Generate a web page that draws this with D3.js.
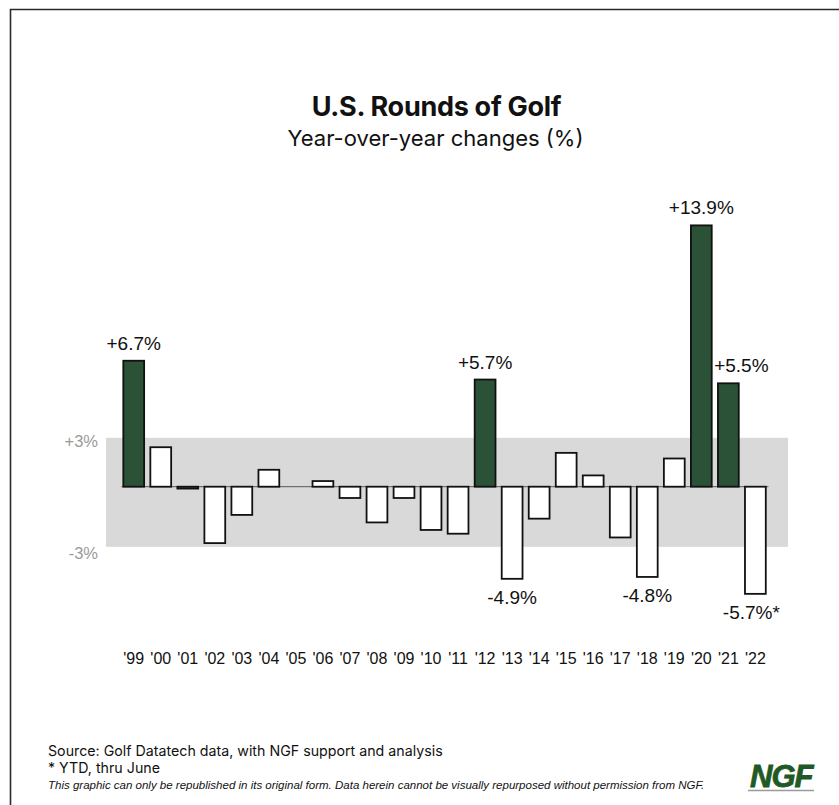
<!DOCTYPE html>
<html>
<head>
<meta charset="utf-8">
<script src="https://cdn.jsdelivr.net/npm/d3@7"></script>
<style>
  html, body { margin: 0; padding: 0; background: #fff; }
  svg { display: block; }
</style>
</head>
<body>
<svg id="chart" width="839" height="805"></svg>
<script>
// ---------- DATA ----------
const years = ["'99","'00","'01","'02","'03","'04","'05","'06","'07","'08","'09","'10","'11","'12","'13","'14","'15","'16","'17","'18","'19","'20","'21","'22"];
const changes = [6.7, 2.1, -0.1, -3.0, -1.5, 0.9, 0.0, 0.3, -0.6, -1.9, -0.6, -2.3, -2.5, 5.7, -4.9, -1.7, 1.8, 0.6, -2.7, -4.8, 1.5, 13.9, 5.5, -5.7];
const highlighted = ["'99","'12","'20","'21"];
const calloutYears = ["'99","'12","'13","'18","'20","'21","'22"];
const calloutTexts = ["+6.7%","+5.7%","-4.9%","-4.8%","+13.9%","+5.5%","-5.7%*"];
const bandEdges = [2.6, -3.2];          // shaded "normal range" band as drawn
const bandLabels = ["+3%", "-3%"];
const title = "U.S. Rounds of Golf";
const subtitle = "Year-over-year changes (%)";
const footerLines = ["Source: Golf Datatech data, with NGF support and analysis", "* YTD, thru June"];
const disclaimer = "This graphic can only be republished in its original form. Data herein cannot be visually repurposed without permission from NGF.";

// ---------- LAYOUT ----------
const svg = d3.select("#chart");
const GREEN = "#2b5236";
const chartFont = "'Liberation Sans', Arial, sans-serif";
const textFont = "Inter, 'Noto Sans', sans-serif";

const x = d3.scaleBand().domain(years).range([117.1, 772.0]).padding(0.23);
const y = d3.scaleLinear().domain([-6, 14]).range([486.7 + 6 * 18.8, 486.7 - 14 * 18.8]);

function fitWidth(sel, target) {
  const node = sel.node();
  const fs = parseFloat(sel.attr("font-size"));
  const w = node.getComputedTextLength();
  if (w > 0) sel.attr("font-size", (fs * target / w).toFixed(2));
}

// frame
svg.append("path")
  .attr("d", "M10.5,900 L10.5,9.5 L900,9.5")
  .attr("fill", "none").attr("stroke", "#2a2a2a").attr("stroke-width", 1.6);

// titles
const t1 = svg.append("text").attr("x", 436.5).attr("y", 116).attr("text-anchor", "middle")
  .attr("font-family", textFont).attr("font-weight", 700).attr("font-size", 25)
  .attr("letter-spacing", "-0.3").attr("fill", "#111").text(title);
fitWidth(t1, 249);
const t2 = svg.append("text").attr("x", 435.5).attr("y", 145.5).attr("text-anchor", "middle")
  .attr("font-family", textFont).attr("font-weight", 400).attr("font-size", 21)
  .attr("fill", "#111").text(subtitle);
fitWidth(t2, 296);

// band
svg.append("rect")
  .attr("x", 106).attr("width", 788 - 106)
  .attr("y", y(bandEdges[0])).attr("height", y(bandEdges[1]) - y(bandEdges[0]))
  .attr("fill", "#d9d9d9");

// band labels
svg.selectAll("text.band").data(bandLabels).enter().append("text")
  .attr("class", "band")
  .attr("x", 98)
  .attr("y", (d, i) => y(bandEdges[i]) + (i === 0 ? 3 : 6))
  .attr("dy", "0.35em")
  .attr("text-anchor", "end")
  .attr("font-family", chartFont).attr("font-size", 16.5)
  .attr("fill", "#9a9a9a")
  .text(d => d);

// zero line
svg.append("line")
  .attr("x1", 121.5).attr("x2", 768.5)
  .attr("y1", y(0)).attr("y2", y(0))
  .attr("stroke", "#555").attr("stroke-width", 1);

// bars
const data = years.map((yr, i) => ({ yr, v: changes[i] }));
svg.selectAll("rect.bar").data(data.filter(d => d.v !== 0)).enter().append("rect")
  .attr("class", "bar")
  .attr("x", d => x(d.yr))
  .attr("width", x.bandwidth())
  .attr("y", d => Math.min(y(d.v), y(0)))
  .attr("height", d => Math.abs(y(d.v) - y(0)))
  .attr("fill", d => highlighted.includes(d.yr) ? GREEN : "#fff")
  .attr("stroke", "#111")
  .attr("stroke-width", 1.8);

// callouts
const calloutDx = { "'21": 13, "'22": -4 };
svg.selectAll("text.callout").data(calloutYears).enter().append("text")
  .attr("class", "callout")
  .attr("x", d => x(d) + x.bandwidth() / 2 + (calloutDx[d] || 0))
  .attr("y", d => {
    const v = changes[years.indexOf(d)];
    return v >= 0 ? y(v) - 11 : y(v) + 25;
  })
  .attr("text-anchor", "middle")
  .attr("font-family", chartFont).attr("font-size", 19)
  .attr("fill", "#111")
  .text((d, i) => calloutTexts[i]);

// x axis labels
const xAxis = d3.axisBottom(x).tickSize(0).tickPadding(0);
const gx = svg.append("g").attr("transform", "translate(0,653)").call(xAxis);
gx.select(".domain").remove();
gx.selectAll("text")
  .attr("font-family", chartFont).attr("font-size", 16)
  .attr("fill", "#111").attr("dy", "0.71em");

// footer
svg.selectAll("text.foot").data(footerLines).enter().append("text")
  .attr("class", "foot")
  .attr("x", 48).attr("y", (d, i) => 756 + i * 16.5)
  .attr("font-family", textFont).attr("font-size", 14)
  .attr("fill", "#111")
  .text(d => d)
  .each(function (d, i) { fitWidth(d3.select(this), i === 0 ? 395 : 112); });

const disc = svg.append("text").attr("x", 48).attr("y", 789)
  .attr("font-family", chartFont).attr("font-style", "italic").attr("font-size", 11)
  .attr("fill", "#111").text(disclaimer);
fitWidth(disc, 656);

// NGF logo
const logo = svg.append("text").attr("x", 750).attr("y", 787)
  .attr("font-family", chartFont).attr("font-weight", 900).attr("font-style", "italic")
  .attr("font-size", 26).attr("letter-spacing", "-1")
  .attr("fill", "#1f5a26").attr("stroke", "#1f5a26").attr("stroke-width", 0.8)
  .text("NGF");
fitWidth(logo, 62);
svg.append("line").attr("x1", 748).attr("x2", 814).attr("y1", 790.5).attr("y2", 790.5)
  .attr("stroke", "#9a9a9a").attr("stroke-width", 1.5);
</script>
</body>
</html>
